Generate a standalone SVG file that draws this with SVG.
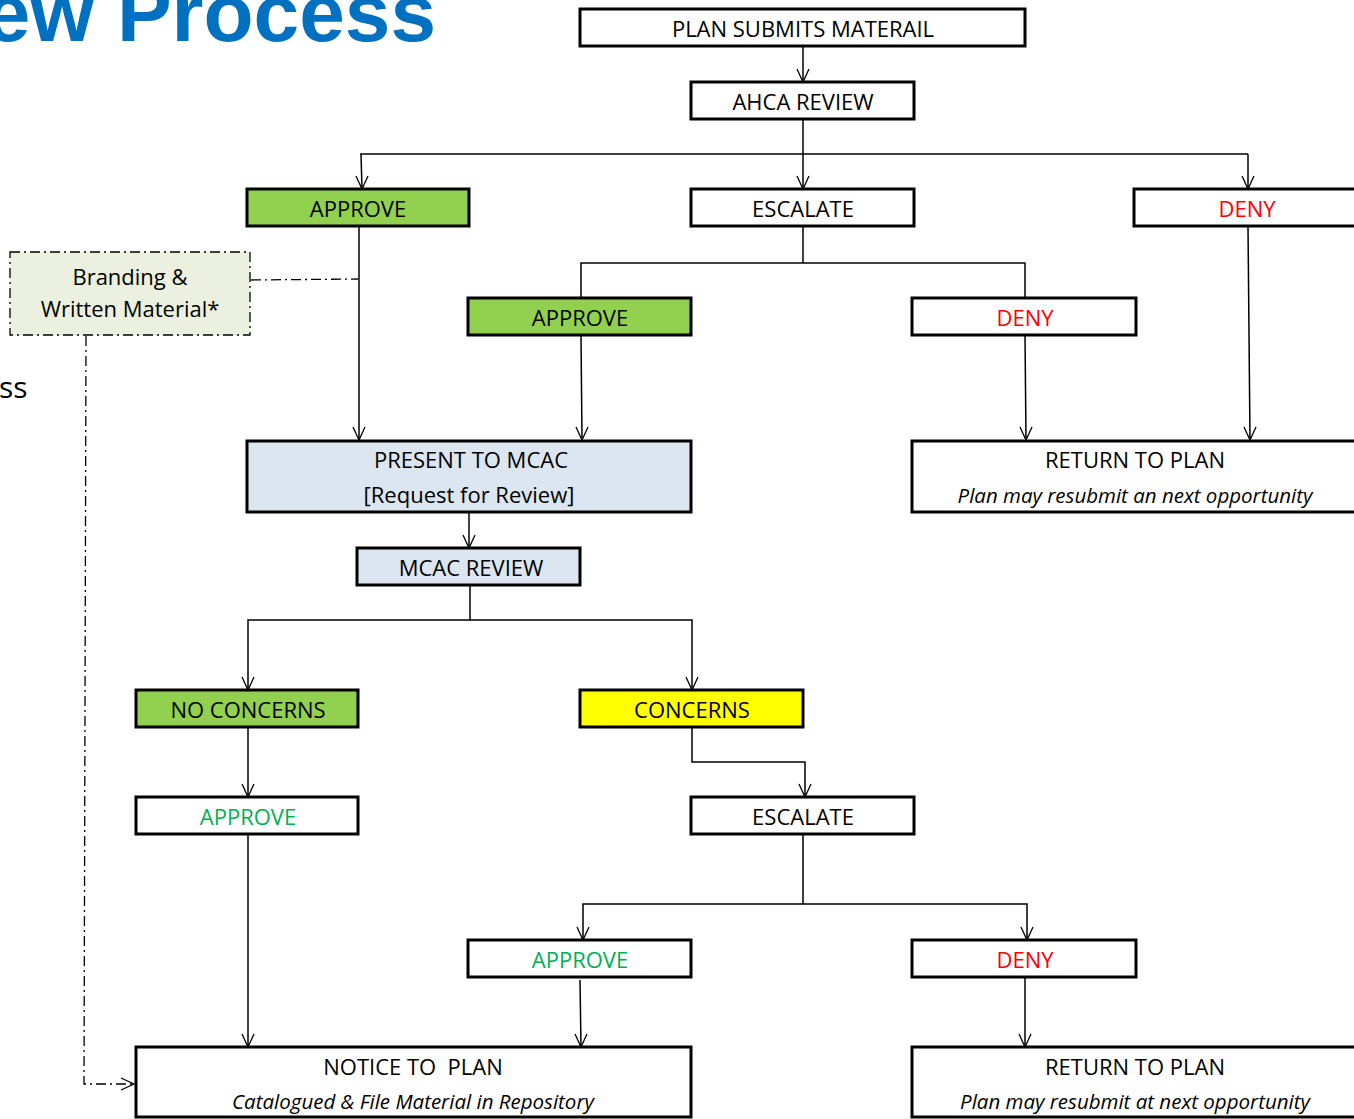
<svg xmlns="http://www.w3.org/2000/svg" width="1354" height="1119" viewBox="0 0 1354 1119">
<style>
.box{stroke:#000;stroke-width:3;fill:#fff}
.g{fill:#92D050}
.b{fill:#DCE6F1}
.y{fill:#FFFF00}
.t{font-family:"Open Sans","Noto Sans",sans-serif;font-size:22px;fill:#000;text-anchor:middle}
.i{font-style:italic;font-size:20.5px}
.red{fill:#FF0000}
.grn{fill:#00B050}
.c{stroke:#000;stroke-width:1.5;fill:none}
.dd{stroke:#000;stroke-width:1.3;fill:none;stroke-dasharray:10 4 2 4}
</style>
<defs>
<marker id="ah" markerWidth="14" markerHeight="16" refX="7" refY="15" orient="0" markerUnits="userSpaceOnUse">
<path d="M1,2 L7,15 L13,2" fill="none" stroke="#000" stroke-width="1.3"/>
</marker>
<marker id="ar" markerWidth="16" markerHeight="14" refX="15" refY="7" orient="0" markerUnits="userSpaceOnUse">
<path d="M2,1 L15,7 L2,13" fill="none" stroke="#000" stroke-width="1.3"/>
</marker>
</defs>
<rect width="1354" height="1119" fill="#fff"/>
<text x="436" y="41" text-anchor="end" font-family="Liberation Sans, Arial, sans-serif" font-weight="bold" font-size="82" fill="#0070C0">ew Process</text>
<text x="-1" y="398" font-family="Open Sans, sans-serif" font-size="30" fill="#000">ss</text>

<g id="connectors">
<line class="c" x1="803" y1="46" x2="803" y2="82" marker-end="url(#ah)"/>
<line class="c" x1="803" y1="119" x2="803" y2="189" marker-end="url(#ah)"/>
<polyline class="c" points="360,154 1248,154"/>
<line class="c" x1="361" y1="154" x2="362" y2="189" marker-end="url(#ah)"/>
<line class="c" x1="1248" y1="154" x2="1248" y2="189" marker-end="url(#ah)"/>
<polyline class="c" points="803,226 803,263"/>
<polyline class="c" points="581,298 581,263 1025,263 1025,298"/>
<line class="c" x1="359" y1="226" x2="359" y2="440" marker-end="url(#ah)"/>
<line class="c" x1="581" y1="335" x2="582" y2="440" marker-end="url(#ah)"/>
<line class="c" x1="1025" y1="335" x2="1026" y2="440" marker-end="url(#ah)"/>
<line class="c" x1="1248" y1="226" x2="1250" y2="440" marker-end="url(#ah)"/>
<line class="c" x1="469" y1="512" x2="469" y2="548" marker-end="url(#ah)"/>
<polyline class="c" points="470,585 470,620 248,620 248,690" marker-end="url(#ah)"/>
<polyline class="c" points="470,620 692,620 692,690" marker-end="url(#ah)"/>
<line class="c" x1="248" y1="727" x2="248" y2="797" marker-end="url(#ah)"/>
<polyline class="c" points="692,727 692,762 805,762 805,797" marker-end="url(#ah)"/>
<polyline class="c" points="803,834 803,904 583,904 583,940" marker-end="url(#ah)"/>
<polyline class="c" points="803,904 1027,904 1027,940" marker-end="url(#ah)"/>
<line class="c" x1="248" y1="834" x2="248" y2="1047" marker-end="url(#ah)"/>
<line class="c" x1="580" y1="980" x2="581" y2="1047" marker-end="url(#ah)"/>
<line class="c" x1="1025" y1="977" x2="1025" y2="1047" marker-end="url(#ah)"/>
<polyline class="dd" points="251,280 358,279"/>
<polyline class="dd" points="86,336 84,1084 134,1084" marker-end="url(#ar)"/>
</g>

<g id="plan-submits"><rect class="box" x="580" y="9" width="445" height="37"/><text class="t" x="803" y="37">PLAN SUBMITS MATERAIL</text></g>
<g id="ahca-review"><rect class="box" x="691" y="82" width="223" height="37"/><text class="t" x="803" y="110">AHCA REVIEW</text></g>
<g id="approve-1"><rect class="box g" x="247" y="189" width="222" height="37"/><text class="t" x="358" y="217">APPROVE</text></g>
<g id="escalate-1"><rect class="box" x="691" y="189" width="223" height="37"/><text class="t" x="803" y="217">ESCALATE</text></g>
<g id="deny-1"><rect class="box" x="1134" y="189" width="230" height="37"/><text class="t red" x="1247" y="217">DENY</text></g>
<g id="branding"><rect x="10" y="252" width="240" height="83" fill="#EBF1DE" stroke="#000" stroke-width="1.3" stroke-dasharray="10 4 2 4"/><text class="t" x="130" y="285">Branding &amp;</text><text class="t" x="130" y="317">Written Material*</text></g>
<g id="approve-2"><rect class="box g" x="468" y="298" width="223" height="37"/><text class="t" x="580" y="326">APPROVE</text></g>
<g id="deny-2"><rect class="box" x="912" y="298" width="224" height="37"/><text class="t red" x="1025" y="326">DENY</text></g>
<g id="present-mcac"><rect class="box b" x="247" y="441" width="444" height="71"/><text class="t" x="471" y="468">PRESENT TO MCAC</text><text class="t" x="469" y="503">[Request for Review]</text></g>
<g id="return-1"><rect class="box" x="912" y="441" width="452" height="71"/><text class="t" x="1135" y="468">RETURN TO PLAN</text><text class="t i" x="1135" y="503">Plan may resubmit an next opportunity</text></g>
<g id="mcac-review"><rect class="box b" x="357" y="548" width="223" height="37"/><text class="t" x="471" y="576">MCAC REVIEW</text></g>
<g id="no-concerns"><rect class="box g" x="136" y="690" width="222" height="37"/><text class="t" x="248" y="718">NO CONCERNS</text></g>
<g id="concerns"><rect class="box y" x="580" y="690" width="223" height="37"/><text class="t" x="692" y="718">CONCERNS</text></g>
<g id="approve-3"><rect class="box" x="136" y="797" width="222" height="37"/><text class="t grn" x="248" y="825">APPROVE</text></g>
<g id="escalate-2"><rect class="box" x="691" y="797" width="223" height="37"/><text class="t" x="803" y="825">ESCALATE</text></g>
<g id="approve-4"><rect class="box" x="468" y="940" width="223" height="37"/><text class="t grn" x="580" y="968">APPROVE</text></g>
<g id="deny-3"><rect class="box" x="912" y="940" width="224" height="37"/><text class="t red" x="1025" y="968">DENY</text></g>
<g id="notice"><rect class="box" x="136" y="1047" width="555" height="70"/><text class="t" x="413" y="1075" xml:space="preserve">NOTICE TO  PLAN</text><text class="t i" x="413" y="1109">Catalogued &amp; File Material in Repository</text></g>
<g id="return-2"><rect class="box" x="912" y="1047" width="452" height="70"/><text class="t" x="1135" y="1075">RETURN TO PLAN</text><text class="t i" x="1135" y="1109">Plan may resubmit at next opportunity</text></g>
</svg>
